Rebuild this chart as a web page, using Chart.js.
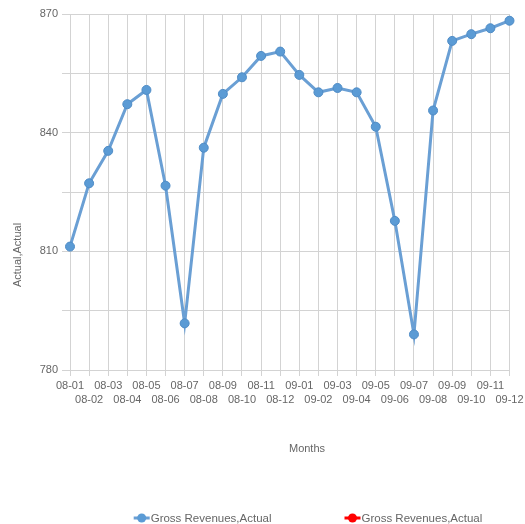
<!DOCTYPE html>
<html>
<head>
<meta charset="utf-8">
<script src="https://cdn.jsdelivr.net/npm/chart.js@4.4.0/dist/chart.umd.min.js"></script>
<style>
  html, body { margin: 0; padding: 0; background: #ffffff; }
  #wrap { width: 525px; height: 524px; }
</style>
</head>
<body>
<div id="wrap"><canvas id="chart" width="525" height="524"></canvas></div>
<script>
// Monthly categories (yy-mm style labels)
const months = ['08-01', '08-02', '08-03', '08-04', '08-05', '08-06', '08-07', '08-08',
                '08-09', '08-10', '08-11', '08-12', '09-01', '09-02', '09-03', '09-04',
                '09-05', '09-06', '09-07', '09-08', '09-09', '09-10', '09-11', '09-12'];

// Gross revenues, actual
const grossRevenuesActual = [811.2, 827.2, 835.4, 847.2, 850.8, 826.6, 791.8, 836.2,
                             849.8, 854.0, 859.4, 860.5, 854.6, 850.2, 851.3, 850.2,
                             841.5, 817.7, 789.0, 845.6, 863.2, 864.9, 866.4, 868.3];

// Second series listed in the legend (no values)
const grossRevenuesActual2 = [];

const seriesNames = ['Gross Revenues,Actual', 'Gross Revenues,Actual'];

// Value axis range and label interval
const yMin = 780;
const yMax = 870;
const yStep = 15;
const yLabelEvery = 30;

const axisTitles = { x: 'Months', y: 'Actual,Actual' };

const FONT = 'Arial, "Liberation Sans", Helvetica, sans-serif';
const TEXT = '#666666';
const GRID = '#d3d3d3';

// Axis titles and a line-with-dot legend drawn beneath the plot
const extras = {
  id: 'extras',
  afterDraw(chart) {
    const ctx = chart.ctx;
    const midX = 307;
    ctx.save();
    ctx.fillStyle = TEXT;
    ctx.font = '11px ' + FONT;
    ctx.textAlign = 'center';
    ctx.textBaseline = 'middle';
    ctx.fillText(axisTitles.x, midX, 449);

    ctx.save();
    ctx.translate(18, 255);
    ctx.rotate(-Math.PI / 2);
    ctx.fillText(axisTitles.y, 0, 0);
    ctx.restore();

    // legend
    ctx.font = '11.5px ' + FONT;
    const sets = chart.data.datasets;
    const markerW = 16, textGap = 1, itemGap = 73, ly = 518;
    const widths = sets.map(d => markerW + textGap + ctx.measureText(d.label).width);
    const total = widths.reduce((a, b) => a + b, 0) + itemGap * (sets.length - 1);
    let x = midX + 1 - total / 2;
    sets.forEach((d, i) => {
      const cx = x + markerW / 2;
      ctx.strokeStyle = d.borderColor;
      ctx.lineWidth = 3;
      ctx.beginPath();
      ctx.moveTo(x, ly);
      ctx.lineTo(x + markerW, ly);
      ctx.stroke();
      ctx.fillStyle = d.pointBackgroundColor;
      ctx.beginPath();
      ctx.arc(cx, ly, 4.5, 0, Math.PI * 2);
      ctx.fill();
      ctx.fillStyle = TEXT;
      ctx.textAlign = 'left';
      ctx.fillText(d.label, x + markerW + textGap, ly + 0.5);
      x += widths[i] + itemGap;
    });
    ctx.restore();
  }
};

new Chart(document.getElementById('chart'), {
  type: 'line',
  data: {
    labels: months,
    datasets: [
      {
        label: seriesNames[0],
        data: grossRevenuesActual,
        borderColor: '#6a9fd4',
        borderWidth: 3,
        pointBackgroundColor: '#5b9bd5',
        pointBorderColor: '#4f8cc6',
        pointBorderWidth: 1,
        pointRadius: 4.5,
        tension: 0,
        fill: false
      },
      {
        label: seriesNames[1],
        data: grossRevenuesActual2,
        borderColor: '#ff0000',
        borderWidth: 3,
        pointBackgroundColor: '#ff0000',
        pointBorderColor: '#ff0000',
        pointRadius: 4.5,
        fill: false
      }
    ]
  },
  options: {
    responsive: false,
    animation: false,
    devicePixelRatio: 1,
    layout: { padding: { top: 14, right: 15.5, bottom: 110, left: 0 } },
    plugins: {
      legend: { display: false },
      tooltip: { enabled: false }
    },
    scales: {
      x: {
        type: 'category',
        offset: false,
        grid: { color: GRID, tickLength: 6, lineWidth: 1 },
        border: { color: GRID },
        ticks: {
          autoSkip: false,
          maxRotation: 0,
          minRotation: 0,
          padding: 3,
          color: TEXT,
          font: { family: FONT, size: 11, lineHeight: 1.3 },
          callback(value, index) {
            const lab = this.getLabelForValue(value);
            return index % 2 === 0 ? lab : ['', lab];
          }
        },
        afterFit(scale) {
          scale.height = 44;
          scale.paddingLeft = 0;
          scale.paddingRight = 0;
        }
      },
      y: {
        min: yMin,
        max: yMax,
        grid: { color: GRID, tickLength: 8, lineWidth: 1 },
        border: { color: GRID },
        ticks: {
          stepSize: yStep,
          padding: 4,
          color: TEXT,
          font: { family: FONT, size: 11 },
          callback(value) { return value % yLabelEvery === 0 ? value : ''; }
        },
        afterFit(scale) { scale.width = 70; }
      }
    }
  },
  plugins: [extras]
});
</script>
</body>
</html>
